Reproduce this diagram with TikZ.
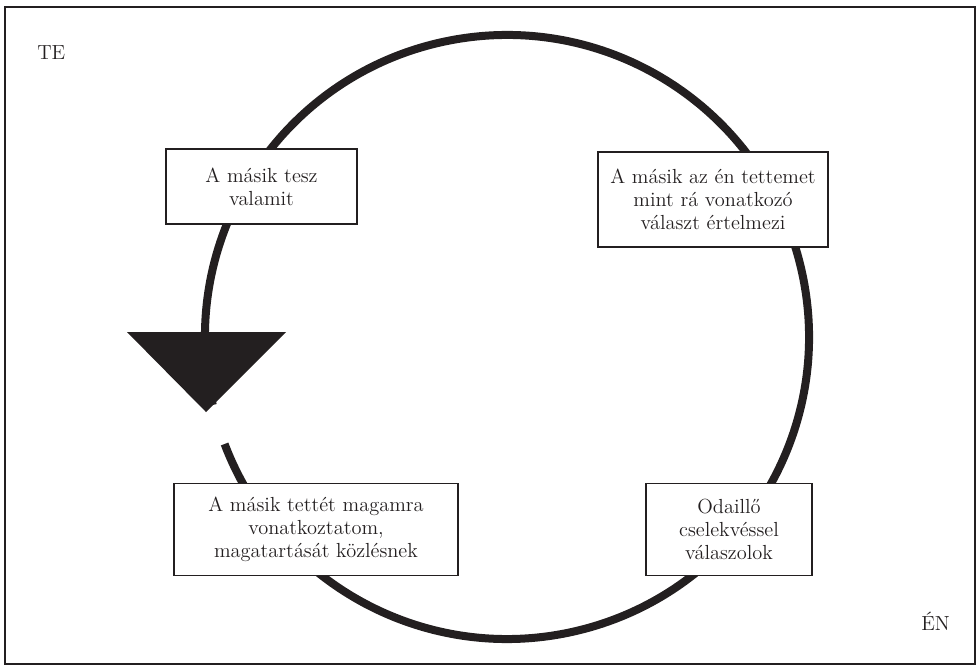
\documentclass[tikz,border=0pt]{standalone}
\usepackage{fontspec}
\definecolor{ink}{HTML}{231F20}
\tikzset{
  doboz/.style={draw=ink,line width=1.3pt,fill=white,align=center,inner sep=0pt,text=ink,
    font=\fontsize{14.5}{16.5}\selectfont},
  felirat/.style={anchor=base west,inner sep=0pt,text=ink,font=\fontsize{14.5}{16.5}\selectfont}
}
\begin{document}
\begin{tikzpicture}[x=0.025cm,y=-0.025cm]
\pgfmathsetmacro{\rad}{302}
\pgfmathsetmacro{\gapA}{167}
\pgfmathsetmacro{\gapB}{159.25}
\useasboundingbox(0,0)rectangle(980,667);
\draw[ink,line width=1.3pt](5,7)rectangle(975,664);
\coordinate(kozep)at(507,337);
\draw[ink,line width=0.2cm](kozep)++(\gapA:\rad)arc[start angle=\gapA,end angle=\gapB+360,radius=\rad];
\fill[ink](127,332)--(286,332)--(206,412)--cycle;
\node[doboz,minimum width=4.775cm,minimum height=1.875cm](tesz)at(261.5,186.5){A másik tesz\\valamit};
\node[doboz,minimum width=5.75cm,minimum height=2.375cm](ertelmez)at(713,199.5){A másik az én tettemet\\mint rá vonatkozó\\választ értelmezi};
\node[doboz,minimum width=7.1cm,minimum height=2.3cm](vonatkoz)at(316,529.5){A másik tettét magamra\\vonatkoztatom,\\magatartását közlésnek};
\node[doboz,minimum width=4.15cm,minimum height=2.3cm](valaszol)at(729,529.5){Odaillő\\cselekvéssel\\válaszolok};
\node[felirat](te)at(37,59){TE};
\node[felirat](en)at(921,630){ÉN};
\end{tikzpicture}
\end{document}
